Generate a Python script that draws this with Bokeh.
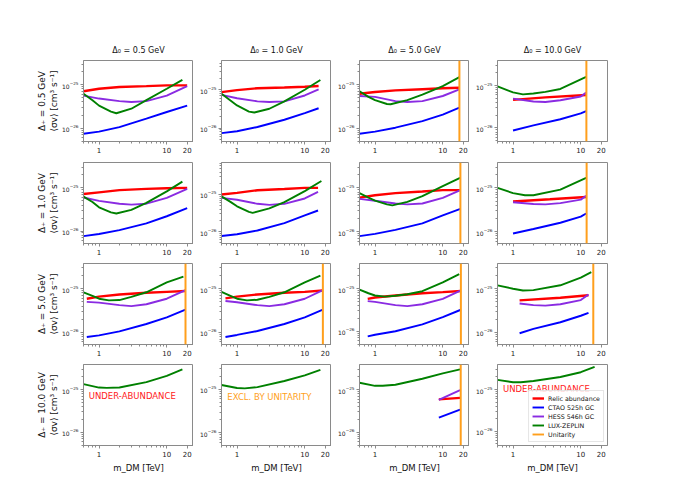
import numpy as np
from bokeh.plotting import figure
from bokeh.layouts import gridplot
from bokeh.models import (Span, Label, Legend, LegendItem, FixedTicker,
                          BasicTickFormatter, LogTickFormatter, Range1d)
from bokeh.embed import file_html
from bokeh.resources import INLINE

# ---------------- data (panel index = row*4 + col; rows: Delta_+, cols: Delta_0) ----------
delta0 = [0.5, 1.0, 5.0, 10.0]
deltap = [0.5, 1.0, 5.0, 10.0]

relic_m = [
    [0.59, 1, 2, 5, 10, 20], [0.59, 1, 2, 5, 10, 16], [0.59, 1, 2, 5, 10, 17.6], [1, 3, 12],
    [0.59, 1, 2, 5, 10, 20], [0.59, 1, 2, 5, 10, 15.7], [0.59, 1, 2, 5, 10, 18.2], [1, 3.5, 12],
    [0.66, 1, 2, 5, 10, 18.9], [0.675, 1, 2, 5, 10, 18.5], [0.78, 1, 2, 5, 10, 18.5], [1.25, 5, 13],
    [], [], [8.75, 18], [],
]
relic_sv = [
    [7.1e-26, 8.1e-26, 8.9e-26, 9.3e-26, 9.7e-26, 9.7e-26],
    [8.7e-26, 9.8e-26, 1.1e-25, 1.15e-25, 1.2e-25, 1.26e-25],
    [6.2e-26, 6.8e-26, 7.4e-26, 7.9e-26, 8.3e-26, 8.5e-26],
    [4.6e-26, 5.25e-26, 6.0e-26],
    [7.2e-26, 7.9e-26, 8.9e-26, 9.5e-26, 9.8e-26, 1.0e-25],
    [1.0e-25, 1.1e-25, 1.3e-25, 1.4e-25, 1.5e-25, 1.5e-25],
    [6.0e-26, 6.8e-26, 7.6e-26, 8.3e-26, 8.9e-26, 8.9e-26],
    [4.9e-26, 5.5e-26, 6.2e-26],
    [5.9e-26, 6.6e-26, 7.4e-26, 8.1e-26, 8.5e-26, 8.9e-26],
    [6.0e-26, 6.6e-26, 7.4e-26, 8.1e-26, 8.5e-26, 9.1e-26],
    [5.75e-26, 6.2e-26, 6.9e-26, 7.8e-26, 8.3e-26, 8.8e-26],
    [5.4e-26, 6.2e-26, 7.1e-26],
    [], [], [5.9e-26, 6.4e-26], [],
]

ctao_m = [
    [0.59, 1, 2, 5, 10, 20], [0.59, 1, 2, 5, 10, 16], [0.59, 1, 2, 5, 10, 17.6], [1, 2, 5, 10, 12],
    [0.59, 1, 2, 5, 10, 20], [0.59, 1, 2, 5, 10, 15.7], [0.59, 1, 2, 5, 10, 18.2], [1, 2, 5, 10, 12],
    [0.66, 1, 2, 5, 10, 18.9], [0.675, 1, 2, 5, 10, 18.5], [0.78, 1, 2, 5, 10, 18.5], [1.25, 2, 5, 10, 13],
    [], [], [8.75, 18], [],
]
ctao_sv = [
    [7.4e-27, 8.3e-27, 1.05e-26, 1.65e-26, 2.35e-26, 3.3e-26],
    [7.4e-27, 8.3e-27, 1.07e-26, 1.65e-26, 2.45e-26, 3.3e-26],
    [7.4e-27, 8.3e-27, 1.02e-26, 1.45e-26, 2.05e-26, 2.95e-26],
    [8.7e-27, 1.15e-26, 1.6e-26, 2.2e-26, 2.5e-26],
    [7.6e-27, 8.5e-27, 1.05e-26, 1.5e-26, 2.2e-26, 3.4e-26],
    [7.6e-27, 8.5e-27, 1.07e-26, 1.7e-26, 2.75e-26, 3.7e-26],
    [7.9e-27, 8.9e-27, 1.1e-26, 1.55e-26, 2.35e-26, 3.3e-26],
    [9.1e-27, 1.15e-26, 1.6e-26, 2.2e-26, 2.6e-26],
    [7.8e-27, 8.5e-27, 1.05e-26, 1.55e-26, 2.2e-26, 3.3e-26],
    [7.8e-27, 8.7e-27, 1.07e-26, 1.55e-26, 2.2e-26, 3.3e-26],
    [7.6e-27, 8.3e-27, 1.0e-26, 1.45e-26, 2.15e-26, 3.2e-26],
    [9.5e-27, 1.2e-26, 1.7e-26, 2.4e-26, 2.8e-26],
    [], [], [2.2e-26, 3.4e-26], [],
]

hess_m = [
    [0.59, 1, 2, 3, 5, 10, 20], [0.59, 1, 2, 3, 5, 10, 16], [0.59, 1, 2, 3, 5, 10, 17.6], [1, 2, 3, 5, 10, 12],
    [0.59, 1, 2, 3, 5, 10, 20], [0.59, 1, 2, 3, 5, 10, 15.7], [0.59, 1, 2, 3, 5, 10, 18.2], [1, 2, 3, 5, 10, 12],
    [0.66, 1, 2, 3, 5, 10, 18.9], [0.675, 1, 2, 3, 5, 10, 18.5], [0.78, 1, 2, 3, 5, 10, 18.5], [1.25, 2, 3, 5, 10, 13],
    [], [], [8.75, 18], [],
]
hess_sv = [
    [5.6e-26, 4.8e-26, 4.2e-26, 4.0e-26, 4.2e-26, 5.6e-26, 9.3e-26],
    [7.4e-26, 6.0e-26, 5.0e-26, 4.8e-26, 5.0e-26, 7.1e-26, 1.02e-25],
    [5.5e-26, 5.25e-26, 4.2e-26, 4.0e-26, 4.2e-26, 5.5e-26, 7.8e-26],
    [4.9e-26, 4.2e-26, 4.1e-26, 4.5e-26, 5.5e-26, 6.8e-26],
    [6.0e-26, 5.0e-26, 4.3e-26, 4.1e-26, 4.3e-26, 5.9e-26, 9.5e-26],
    [8.1e-26, 7.2e-26, 5.6e-26, 5.25e-26, 5.6e-26, 7.8e-26, 1.17e-25],
    [5.6e-26, 5.1e-26, 4.4e-26, 4.2e-26, 4.4e-26, 5.9e-26, 8.9e-26],
    [4.7e-26, 4.3e-26, 4.2e-26, 4.5e-26, 5.4e-26, 6.6e-26],
    [5.0e-26, 4.8e-26, 4.2e-26, 4.0e-26, 4.4e-26, 5.9e-26, 9.3e-26],
    [5.25e-26, 4.9e-26, 4.2e-26, 4.0e-26, 4.4e-26, 5.9e-26, 9.3e-26],
    [5.1e-26, 4.9e-26, 4.1e-26, 3.9e-26, 4.3e-26, 5.75e-26, 9.1e-26],
    [4.6e-26, 4.2e-26, 4.1e-26, 4.4e-26, 5.5e-26, 7.4e-26],
    [], [], [5.75e-26, 9.8e-26], [],
]

lz_m = [
    [0.59, 0.8, 1, 1.5, 1.8, 3, 5, 10, 17], [0.59, 0.8, 1, 1.5, 1.8, 3, 5, 10, 17],
    [0.59, 0.8, 1, 1.5, 1.7, 3, 5, 10, 17.6], [0.59, 1, 1.4, 2, 3, 5, 12],
    [0.59, 0.8, 1, 1.5, 1.8, 3, 5, 10, 17], [0.59, 0.8, 1, 1.5, 1.7, 3, 5, 10, 17.6],
    [0.59, 0.8, 1, 1.5, 1.8, 3, 5, 10, 18], [0.59, 1, 1.5, 2, 5, 12],
    [0.59, 0.8, 1, 1.4, 2, 3, 5, 10, 17.6], [0.59, 0.8, 1, 1.4, 2, 3, 5, 10, 17],
    [0.59, 0.8, 1, 1.4, 2, 3, 5, 10, 17.5], [0.59, 1, 1.4, 2, 5, 10, 14.3],
    [0.59, 1, 1.3, 2, 5, 10, 17], [0.59, 1, 1.3, 2, 5, 10, 17],
    [0.59, 1, 1.3, 2, 5, 10, 18], [0.59, 1, 1.3, 2, 5, 10, 16],
]
lz_sv = [
    [6.2e-26, 4.4e-26, 3.3e-26, 2.4e-26, 2.2e-26, 2.8e-26, 4.4e-26, 8.1e-26, 1.3e-25],
    [7.9e-26, 5.25e-26, 3.9e-26, 2.7e-26, 2.55e-26, 3.2e-26, 5.0e-26, 1.0e-25, 1.8e-25],
    [7.1e-26, 5.25e-26, 4.4e-26, 3.6e-26, 3.55e-26, 4.4e-26, 5.9e-26, 9.3e-26, 1.5e-25],
    [9.5e-26, 6.9e-26, 6.2e-26, 6.5e-26, 7.1e-26, 8.3e-26, 1.6e-25],
    [6.3e-26, 4.7e-26, 3.55e-26, 2.7e-26, 2.55e-26, 3.1e-26, 4.5e-26, 8.3e-26, 1.4e-25],
    [8.9e-26, 6.3e-26, 4.8e-26, 3.4e-26, 3.2e-26, 4.2e-26, 6.2e-26, 1.23e-25, 2.3e-25],
    [7.6e-26, 6.0e-26, 5.1e-26, 4.2e-26, 4.0e-26, 4.8e-26, 6.5e-26, 1.1e-25, 1.7e-25],
    [1.0e-25, 7.6e-26, 6.8e-26, 6.8e-26, 9.1e-26, 1.7e-25],
    [8.3e-26, 6.9e-26, 5.9e-26, 5.4e-26, 5.5e-26, 6.5e-26, 8.3e-26, 1.4e-25, 1.9e-25],
    [8.5e-26, 6.9e-26, 5.9e-26, 5.4e-26, 5.6e-26, 6.5e-26, 8.3e-26, 1.4e-25, 2.0e-25],
    [9.5e-26, 7.8e-26, 6.9e-26, 6.5e-26, 6.8e-26, 7.4e-26, 8.7e-26, 1.4e-25, 2.2e-25],
    [1.2e-25, 1.0e-25, 9.1e-26, 9.3e-26, 1.2e-25, 1.8e-25, 2.4e-25],
    [1.35e-25, 1.12e-25, 1.1e-25, 1.12e-25, 1.5e-25, 2.1e-25, 3.0e-25],
    [1.26e-25, 1.07e-25, 1.05e-25, 1.12e-25, 1.55e-25, 2.1e-25, 2.8e-25],
    [1.45e-25, 1.23e-25, 1.23e-25, 1.3e-25, 1.8e-25, 2.4e-25, 3.0e-25],
    [1.7e-25, 1.5e-25, 1.5e-25, 1.6e-25, 2.0e-25, 2.6e-25, 3.5e-25],
]

unitarity_m = [None, None, 17.6, 12.1,
               None, None, 18.2, 12.2,
               18.9, 18.5, 18.5, 15.3,
               None, None, 18.4, None]

# y-axis limits per panel (log10 of <sigma v>)
ylog_lo = [-26.31, -26.35, -26.31, -26.32, -26.29, -26.32, -26.27, -26.27,
           -26.28, -26.28, -26.31, -26.28, -26.31, -26.29, -26.31, -26.34]
ylog_hi = [-24.44, -24.235, -24.44, -24.41, -24.41, -24.14, -24.42, -24.42,
           -24.42, -24.42, -24.41, -24.42, -24.41, -24.43, -24.41, -24.40]

x_ticks = [1, 10, 20]
x_lim = (0.59, 24.8)

# ---------------- styling ----------------
RED, BLUE, PURPLE, GREEN, ORANGE = "#ff0000", "#0000ff", "#8a2be2", "#008000", "#ff9f1c"
GRAY = "#8a8a8a"
FONT = "DejaVu Sans"

x_minor = [0.6, 0.7, 0.8, 0.9, 2, 3, 4, 5, 6, 7, 8, 9]
y_minor = [k * 10.0 ** e for e in (-27, -26, -25) for k in range(2, 10)]

figs = []
for i in range(16):
    r, c = divmod(i, 4)
    kw = dict(
        x_axis_type="log", y_axis_type="log",
        frame_width=110, frame_height=81,
        x_range=Range1d(*x_lim),
        y_range=Range1d(10 ** ylog_lo[i], 10 ** ylog_hi[i]),
        output_backend="svg", toolbar_location=None,
        min_border_left=83 if c == 0 else 28,
        min_border_right=0 if c < 3 else 6,
        min_border_top=60 if r == 0 else (1 if r == 1 else 0),
        min_border_bottom=20 if r < 3 else 34,
    )
    if r == 0:
        p = figure(title=f"Δ₀ = {delta0[c]:.1f} GeV", **kw)
        p.title.align = "center"
        p.title.text_font = FONT
        p.title.text_font_style = "normal"
        p.title.text_font_size = "8px"
        p.title.text_color = "#111111"
        p.title.standoff = 11
    else:
        p = figure(**kw)

    p.xgrid.visible = False
    p.ygrid.visible = False
    p.outline_line_color = GRAY
    p.outline_line_width = 1
    p.background_fill_color = "white"

    p.xaxis.ticker = FixedTicker(ticks=x_ticks, minor_ticks=x_minor)
    p.xaxis.formatter = BasicTickFormatter()
    p.yaxis.ticker = FixedTicker(ticks=[1e-26, 1e-25], minor_ticks=y_minor)
    p.yaxis.formatter = LogTickFormatter()
    for ax in (p.xaxis[0], p.yaxis[0]):
        ax.axis_line_color = GRAY
        ax.major_tick_line_color = GRAY
        ax.minor_tick_line_color = GRAY
        ax.major_tick_in = 0
        ax.major_tick_out = 3
        ax.minor_tick_in = 0
        ax.minor_tick_out = 2
        ax.major_label_text_font = FONT
        ax.major_label_text_color = "#222222"
        ax.major_label_standoff = 2
        ax.axis_label_text_font = FONT
        ax.axis_label_text_font_style = "normal"
        ax.axis_label_text_color = "#111111"
    p.xaxis.major_label_text_font_size = "7px"
    p.yaxis.major_label_text_font_size = "6px"

    if c == 0:
        p.yaxis.axis_label = f"Δ₊ = {deltap[r]:.1f} GeV\n⟨σv⟩ [cm³ s⁻¹]"
        p.yaxis.axis_label_text_font_size = "9px"
        p.yaxis.axis_label_standoff = 0
    if r == 3:
        p.xaxis.axis_label = "m_DM [TeV]"
        p.xaxis.axis_label_text_font_size = "8.5px"
        p.xaxis.axis_label_standoff = 3

    rr = p.line(relic_m[i], relic_sv[i], line_color=RED, line_width=2.4)
    rb = p.line(ctao_m[i], ctao_sv[i], line_color=BLUE, line_width=1.9)
    rp = p.line(hess_m[i], hess_sv[i], line_color=PURPLE, line_width=1.9)
    rg = p.line(lz_m[i], lz_sv[i], line_color=GREEN, line_width=1.9)
    if unitarity_m[i] is not None:
        p.add_layout(Span(location=unitarity_m[i], dimension="height",
                          line_color=ORANGE, line_width=2))

    if i == 15:
        # legend proxies (no visible data)
        prox = {}
        for key, col, w in (("relic", RED, 2.4), ("ctao", BLUE, 1.9),
                            ("hess", PURPLE, 1.9), ("unit", ORANGE, 1.9)):
            prox[key] = p.line([np.nan], [np.nan], line_color=col, line_width=w)
        legend = Legend(items=[
            LegendItem(label="Relic abundance", renderers=[prox["relic"]]),
            LegendItem(label="CTAO 525h GC", renderers=[prox["ctao"]]),
            LegendItem(label="HESS 546h GC", renderers=[prox["hess"]]),
            LegendItem(label="LUX-ZEPLIN", renderers=[rg]),
            LegendItem(label="Unitarity", renderers=[prox["unit"]]),
        ], location="bottom_right")
        legend.label_text_font = FONT
        legend.label_text_font_size = "6.3px"
        legend.label_text_color = "#111111"
        legend.glyph_width = 12
        legend.glyph_height = 8
        legend.label_height = 8
        legend.label_standoff = 4
        legend.spacing = 1
        legend.padding = 3
        legend.margin = 3
        legend.border_line_color = "#cccccc"
        legend.background_fill_alpha = 0.85
        p.add_layout(legend)
    figs.append(p)

# region annotations
notes = [(12, "UNDER-ABUNDANCE", "#ff1a1a", 0.705, 10 ** -25.14),
         (13, "EXCL. BY UNITARITY", ORANGE, 0.72, 10 ** -25.175),
         (15, "UNDER-ABUNDANCE", "#ff1a1a", 0.71, 10 ** -24.98)]
for idx, txt, col, xx, yy in notes:
    figs[idx].add_layout(Label(x=xx, y=yy, text=txt, text_color=col,
                               text_font=FONT, text_font_size="8.5px",
                               text_baseline="middle"))

grid = gridplot([figs[k:k + 4] for k in range(0, 16, 4)], toolbar_location=None)

open("out.html", "w").write(file_html(grid, INLINE))
